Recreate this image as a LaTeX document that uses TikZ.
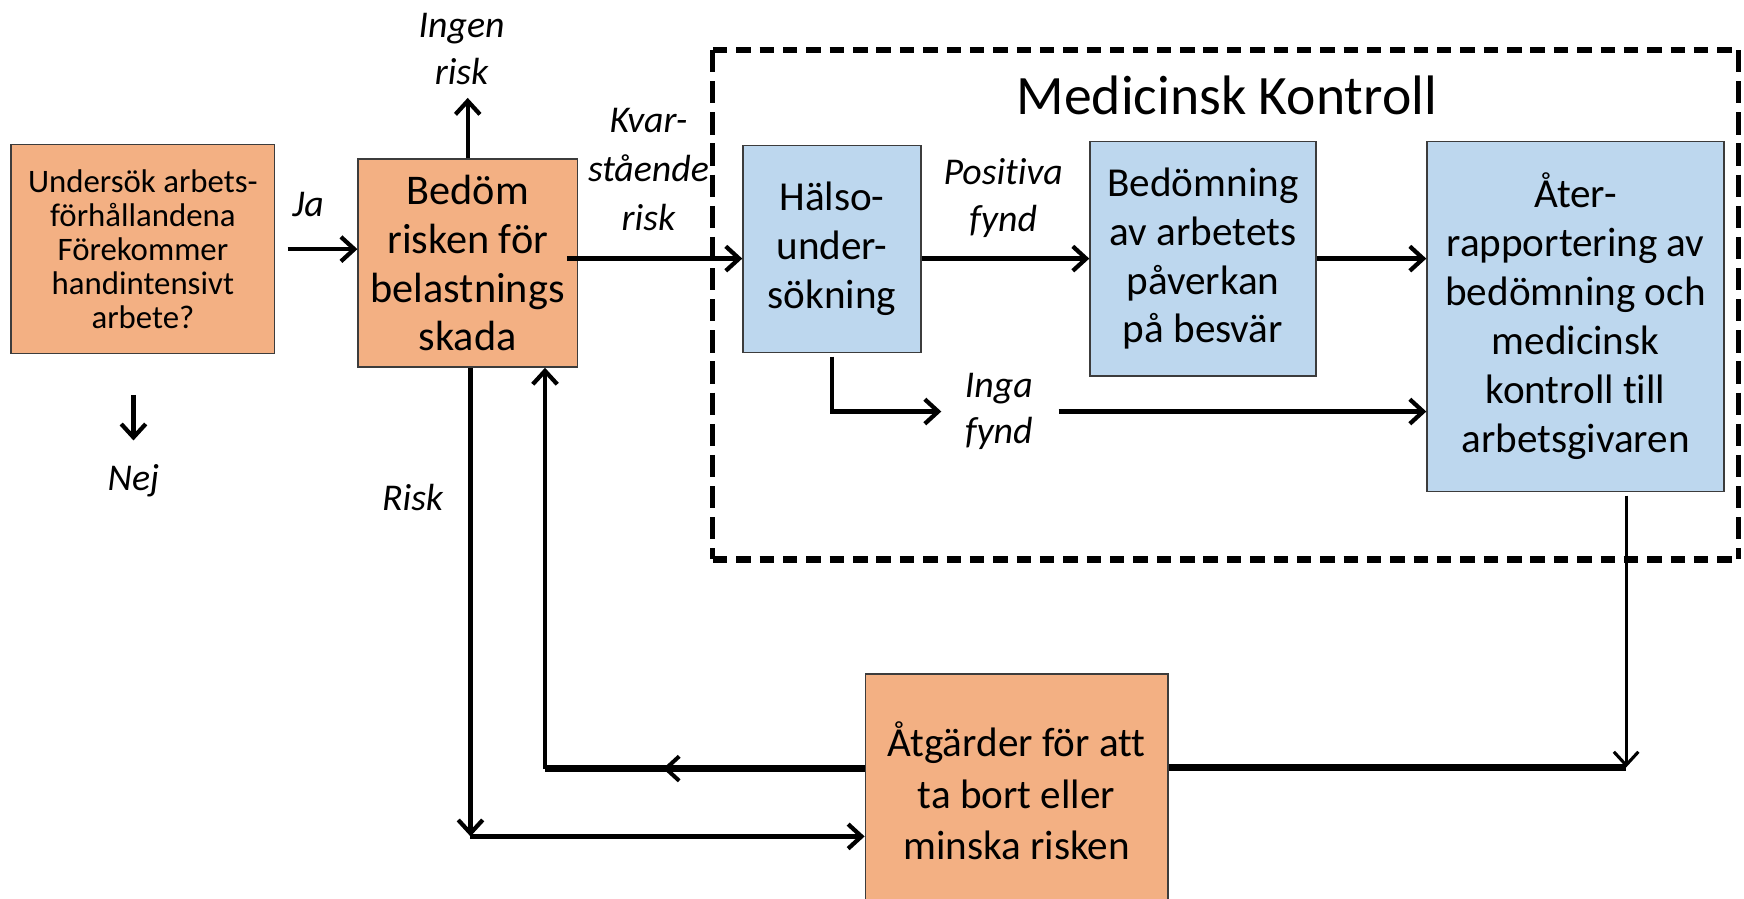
\documentclass[tikz,border=0pt]{standalone}
\usepackage{fontspec}
\setmainfont[Ligatures={NoCommon}]{Carlito}
\usetikzlibrary{arrows.meta}
\definecolor{orangeF}{RGB}{243,176,131}
\definecolor{blueF}{RGB}{189,215,238}
\definecolor{edgeC}{RGB}{60,60,60}
\tikzset{
  box/.style={draw=edgeC, line width=1.3pt, inner sep=0pt, align=center,
    font=\fontsize{37}{44}\selectfont},
  obox/.style={box, fill=orangeF},
  bbox/.style={box, fill=blueF},
  lbl/.style={font=\itshape\fontsize{34}{42}\selectfont, align=center, inner sep=0pt},
  tip/.style={-{Straight Barb[length=12pt,width=22pt]}},
  arr/.style={line width=3.8pt, tip},
  thinarr/.style={line width=2.8pt, tip},
  fatline/.style={line width=6pt},
  fattip/.style={-{Straight Barb[length=12pt,width=22pt,line width=3.6pt]}},
  dashh/.style={line width=6pt, dash pattern=on 13pt off 8pt},
  dashv/.style={line width=4.5pt, dash pattern=on 20pt off 8pt},
}
\begin{document}
\begin{tikzpicture}[x=1pt,y=-1pt]
\useasboundingbox (0,0) rectangle (1568,807.5);
\clip (0,0) rectangle (1568,807.5);
% dashed frame
\draw[dashh] (641,45) -- (1563,45);
\draw[dashh] (641,503) -- (1563,503);
\draw[dashv] (641,45) -- (641,503);
\draw[dashv] (1563,45) -- (1563,503);
\node[font=\fontsize{50}{60}\selectfont, inner sep=0pt] (title) at (1103,86) {Medicinsk Kontroll};
% boxes
\node[obox, minimum width=237pt, minimum height=188pt, font=\fontsize{29.5}{30.5}\selectfont] (A) at (128.5,224)
  {Undersök arbets-\\förhållandena\\Förekommer\\handintensivt\\arbete?};
\node[obox, minimum width=197pt, minimum height=187pt, font=\fontsize{38}{44}\selectfont] (B) at (420.5,236.5)
  {Bedöm\\risken för\\belastnings\\skada};
\node[bbox, minimum width=160pt, minimum height=186pt] (H) at (748,224)
  {Hälso-\\under-\\sökning};
\node[bbox, minimum width=203pt, minimum height=211pt] (D) at (1081.5,232.5)
  {Bedömning\\av arbetets\\påverkan\\på besvär};
\node[bbox, minimum width=267pt, minimum height=315pt] (R) at (1416.5,284.5)
  {Åter-\\rapportering av\\bedömning och\\medicinsk\\kontroll till\\arbetsgivaren};
\node[obox, minimum width=272pt, minimum height=304pt] (T) at (914,758) {};
\node[align=center, inner sep=0pt, font=\fontsize{37}{46}\selectfont] (Ttext) at (914,711)
  {Åtgärder för att\\ta bort eller\\minska risken};
% labels
\node[lbl] (ja) at (277,184) {Ja};
\node[lbl] (nej) at (120,432) {Nej};
\node[lbl] (ingen) at (415,44) {Ingen\\risk};
\node[lbl, font=\itshape\fontsize{34}{44}\selectfont] (kvar) at (583,152) {Kvar-\\stående\\risk};
\node[lbl] (pos) at (902,178) {Positiva\\fynd};
\node[lbl] (inga) at (898,370) {Inga\\fynd};
\node[lbl] (risk) at (371,447) {Risk};
% coordinates
\coordinate (nejs) at (120,355);
\coordinate (neje) at (120,396);
\coordinate (ingene) at (420.5,88);
\coordinate (rc) at (1462,690);
\coordinate (bc) at (490,691);
\coordinate (bm) at (596,691);
\coordinate (rk) at (423,752);
% connectors
\draw[arr] ([xshift=11pt]A.east) -- (A.east -| B.west);
\draw[arr] (nejs) -- (neje);
\draw[arr] (B.north) -- (ingene);
\draw[arr] ([xshift=-10pt]B.east |- D.east) -- (H.west |- D.east);
\draw[arr] (H.east |- D.east) -- (D.west);
\draw[arr] (D.east) -- (D.east -| R.west);
\draw[arr] ([yshift=-3pt]H.south) |- ([xshift=-21pt]inga.west);
\draw[arr] ([xshift=23pt]inga.east) -- (inga.east -| R.west);
\draw[thinarr] ([yshift=-3pt]R.south -| rc) -- (rc);
\draw[fatline] (rc) -- (T.east |- rc);
\draw[fatline] (T.west |- bc) -- (bc);
\draw[line width=6pt, fattip] (T.west |- bc) -- (bm);
\draw[arr] (bc) -- (bc |- B.south);
\draw[arr] (B.south -| rk) -- (rk);
\draw[arr] (rk) -- (T.west |- rk);
\end{tikzpicture}
\end{document}
